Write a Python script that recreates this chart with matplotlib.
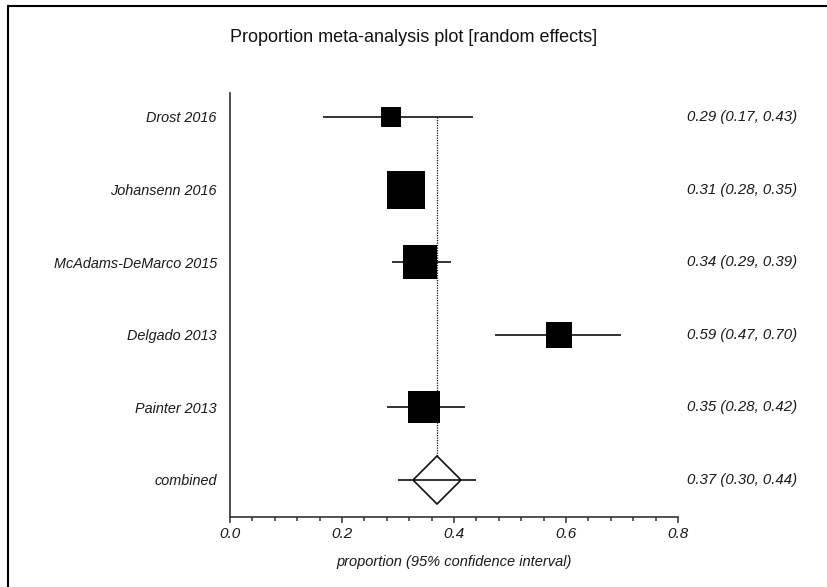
import numpy as np
import matplotlib
matplotlib.use("Agg")
import matplotlib.pyplot as plt
from matplotlib.lines import Line2D
from matplotlib.ticker import MultipleLocator

plt.rcParams['font.family'] = ['Liberation Sans', 'DejaVu Sans']

# Study data
studies = ["Drost 2016", "Johansenn 2016", "McAdams-DeMarco 2015",
           "Delgado 2013", "Painter 2013"]
proportion = [0.287, 0.314, 0.340, 0.588, 0.346]
ci_low = [0.166, 0.280, 0.290, 0.473, 0.280]
ci_high = [0.434, 0.348, 0.395, 0.698, 0.420]
weights = [8.9, 29.3, 24.9, 14.8, 22.1]   # % weight, shown as square area
value_labels = ["0.29 (0.17, 0.43)", "0.31 (0.28, 0.35)", "0.34 (0.29, 0.39)",
                "0.59 (0.47, 0.70)", "0.35 (0.28, 0.42)"]

pooled_label = "combined"
pooled = 0.37
pooled_low = 0.30
pooled_high = 0.44
pooled_text = "0.37 (0.30, 0.44)"

W, H = 827, 587
fig = plt.figure(figsize=(W / 100, H / 100), dpi=100)
ax = fig.add_axes([230 / W, 1 - 517 / H, 448 / W, 424 / H])

n = len(studies)
rows = np.arange(n, 0, -1) + 1.0   # studies top-down, combined at 1
ink = "#111111"
txt_col = "#1a1a1a"

# pooled estimate reference line
ax.plot([pooled, pooled], [rows[0], 1], color=ink, lw=0.9,
        linestyle=(0, (1, 1)), zorder=1)

for y, p, lo, hi, w in zip(rows, proportion, ci_low, ci_high, weights):
    ax.plot([lo, hi], [y, y], color=ink, lw=1.2, zorder=2, solid_capstyle='butt')
    ax.plot(p, y, marker='s', markersize=5.05 * np.sqrt(w), color='black',
            markeredgewidth=0, zorder=3)

# combined diamond
ax.plot(pooled, 1, marker='D', markersize=24.4, markerfacecolor='white',
        markeredgecolor=ink, markeredgewidth=1.2, zorder=3)
ax.plot([pooled_low, pooled_high], [1, 1], color=ink, lw=1.2, zorder=4,
        solid_capstyle='butt')

ax.set_xlim(0, 0.8)
ax.set_ylim(0.49, 6.33)

ax.set_yticks(list(rows) + [1], studies + [pooled_label],
              fontsize=10.4, style='italic', color=txt_col)
ax.tick_params(axis='y', length=0, pad=9.5)

ax.xaxis.set_major_locator(MultipleLocator(0.2))
ax.xaxis.set_minor_locator(MultipleLocator(0.04))
ax.set_xticks([0.0, 0.2, 0.4, 0.6, 0.8], ["0.0", "0.2", "0.4", "0.6", "0.8"],
              fontsize=11, style='italic', color=txt_col)
ax.tick_params(axis='x', which='major', length=4.5, width=1.1, color='#333333', pad=3)
ax.tick_params(axis='x', which='minor', length=3, width=1.1, color='#333333')
ax.set_xlabel("proportion (95% confidence interval)", fontsize=10.5,
              style='italic', color=txt_col, labelpad=10)

for side in ['top', 'right']:
    ax.spines[side].set_visible(False)
for side in ['left', 'bottom']:
    ax.spines[side].set_color('#333333')
    ax.spines[side].set_linewidth(1.2)

for y, txt in zip(list(rows) + [1], value_labels + [pooled_text]):
    ax.text((797 - 230) / 448, y, txt, transform=ax.get_yaxis_transform(),
            ha='right', va='center', fontsize=10.8, style='italic',
            color=txt_col, clip_on=False)

fig.text(0.5, 1 - 38 / H, "Proportion meta-analysis plot [random effects]",
         ha='center', va='center', fontsize=13, color='#111111')

# outer frame (top and left edges only visible)
fig.add_artist(Line2D([7.5 / W, 7.5 / W], [0, 1 - 5.5 / H], color='black', lw=1.5))
fig.add_artist(Line2D([7.5 / W, 1], [1 - 5.5 / H, 1 - 5.5 / H], color='black', lw=1.5))

fig.savefig("out.png", dpi=100)
